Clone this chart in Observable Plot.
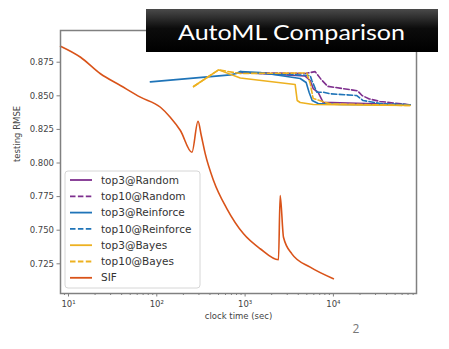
<!DOCTYPE html>
<html><head><meta charset="utf-8">
<script src="https://cdn.jsdelivr.net/npm/d3@7"></script>
<script src="https://cdn.jsdelivr.net/npm/@observablehq/plot@0.6"></script>
<style>
html,body{margin:0;padding:0;background:#fff;}
#wrap{position:relative;width:449px;height:349px;overflow:hidden;}
</style></head><body><div id="wrap"></div>
<script>
// ---- data ----
const seriesNames = ["top3@Random","top10@Random","top3@Reinforce","top10@Reinforce","top3@Bayes","top10@Bayes","SIF"];
const seriesColors = ["#7e2f8e","#7e2f8e","#1f74b8","#1f74b8","#edb120","#edb120","#d95319"];
const seriesDashed = [false,true,false,true,false,true,false];

const randTop3T  = [882, 4786, 5458, 5900, 6720, 7650, 18400, 73600];
const randTop3V  = [0.8673, 0.8647, 0.8614, 0.8554, 0.8525, 0.8452, 0.8445, 0.8433];
const randTop10T = [882, 4786, 6210, 7300, 8600, 18800, 21100, 25500, 33700, 73600];
const randTop10V = [0.8673, 0.8666, 0.8680, 0.8620, 0.8571, 0.8537, 0.8502, 0.8477, 0.8458, 0.8433];
const reinTop3T  = [84.6, 679, 794, 882, 1483, 4205, 4914, 5315, 5748, 6720, 11900, 73600];
const reinTop3V  = [0.8604, 0.8656, 0.8666, 0.8681, 0.8673, 0.8629, 0.8599, 0.8525, 0.8465, 0.8443, 0.8435, 0.8432];
const reinTop10T = [882, 1143, 5458, 5703, 6490, 7650, 9180, 18400, 21700, 33700, 73600];
const reinTop10V = [0.8681, 0.8670, 0.8651, 0.8614, 0.8527, 0.8527, 0.8515, 0.8502, 0.8465, 0.8443, 0.8433];
const bayesTop3T  = [261, 501, 882, 3690, 3890, 4205, 5900, 73600];
const bayesTop3V  = [0.8569, 0.8693, 0.8632, 0.8584, 0.8465, 0.8450, 0.8435, 0.8428];
const bayesTop10T = [261, 501, 882, 5000, 5458, 5900, 9180, 73600];
const bayesTop10V = [0.8569, 0.8693, 0.8666, 0.8670, 0.8592, 0.8480, 0.8440, 0.8428];
const sifT = [8.12, 13.7, 23.0, 38.7, 65.2, 110, 142, 185, 250, 293, 319, 354, 439, 623, 960, 1482, 2388, 2495, 2721, 3386, 5458, 10000];
const sifV = [0.8869, 0.8787, 0.8664, 0.8577, 0.8490, 0.8415, 0.8341, 0.8242, 0.8080, 0.8311, 0.8205, 0.8068, 0.7870, 0.7659, 0.7473, 0.7362, 0.7280, 0.7758, 0.7448, 0.7324, 0.7225, 0.7139];

const yTicks = [0.725, 0.750, 0.775, 0.800, 0.825, 0.850, 0.875];
const xMajor = [10, 100, 1000, 10000];
const xMinor = [9, 20,30,40,50,60,70,80,90, 200,300,400,500,600,700,800,900, 2000,3000,4000,5000,6000,7000,8000,9000, 20000,30000,40000,50000,60000,70000,80000];
const superscripts = {1:"\u00b9",2:"\u00b2",3:"\u00b3",4:"\u2074"};

const titleText = "AutoML Comparison";
const xLabel = "clock time (sec)";
const yLabel = "testing RMSE";
const pageNumber = "2";

// ---- build table ----
const seriesT = [randTop3T, randTop10T, reinTop3T, reinTop10T, bayesTop3T, bayesTop10T, sifT];
const seriesV = [randTop3V, randTop10V, reinTop3V, reinTop10V, bayesTop3V, bayesTop10V, sifV];
const rows = seriesNames.map((name, i) => seriesT[i].map((t, j) => ({name, t, v: seriesV[i][j]})));

const lineMarks = rows.map((data, i) => Plot.line(data, {
  x: "t", y: "v", stroke: seriesColors[i], strokeWidth: 1.6,
  strokeDasharray: seriesDashed[i] ? "5.5,2.4" : null, strokeLinejoin: "round",
  curve: seriesNames[i] === "SIF" ? "monotone-x" : "linear"
}));

const axisColor = "#808080";
const plot = Plot.plot({
  width: 449, height: 349,
  marginLeft: 60, marginRight: 33, marginTop: 30, marginBottom: 56,
  x: {type: "log", domain: [8.12, 87300]},
  y: {domain: [0.7029, 0.8986]},
  style: {fontFamily: "DejaVu Sans", fontSize: "8.5px", color: "#444", background: "white", overflow: "visible"},
  marks: [
    Plot.axisY(yTicks, {tickSize: 3.5, tickPadding: 3, stroke: axisColor, tickFormat: d3.format(".3f"), label: null, fill: "#444"}),
    Plot.axisX(xMajor, {tickSize: 3.5, tickPadding: 4, stroke: axisColor, tickFormat: d => "10" + superscripts[Math.round(Math.log10(d))], label: null, fill: "#444"}),
    Plot.axisX(xMinor, {tickSize: 2, stroke: axisColor, tickFormat: () => "", label: null}),
    ...lineMarks,
    Plot.frame({stroke: axisColor, strokeWidth: 1.5}),
    Plot.text([xLabel], {text: d => d, frameAnchor: "bottom", dy: 25, fill: "#444", fontSize: 8.5}),
    Plot.text([yLabel], {text: d => d, frameAnchor: "left", rotate: -90, dx: -43, fill: "#444", fontSize: 8.5})
  ]
});
document.getElementById("wrap").appendChild(plot);

// ---- overlays: legend, title box, page number ----
const svg = d3.select(plot);
const lg = svg.append("g").attr("text-anchor", "start");
lg.append("rect").attr("x", 65).attr("y", 171).attr("width", 135).attr("height", 117)
  .attr("rx", 3).attr("fill", "white").attr("fill-opacity", 0.85).attr("stroke", "#d6d6d6");
seriesNames.forEach((name, i) => {
  const y = 180 + i * 16.3;
  lg.append("line").attr("x1", 70).attr("x2", 92).attr("y1", y).attr("y2", y)
    .attr("stroke", seriesColors[i]).attr("stroke-width", 1.8)
    .attr("stroke-dasharray", seriesDashed[i] ? "5.5,2.4" : null);
  lg.append("text").attr("x", 101).attr("y", y).attr("dy", "0.35em").attr("text-anchor", "start")
    .attr("font-family", "DejaVu Sans").attr("font-size", 10.5).attr("fill", "#333").text(name);
});

const defs = svg.append("defs");
const grad = defs.append("linearGradient").attr("id", "tg").attr("x1", 0).attr("x2", 0).attr("y1", 0).attr("y2", 1);
grad.append("stop").attr("offset", "0").attr("stop-color", "#4a4a4a");
grad.append("stop").attr("offset", "0.45").attr("stop-color", "#0c0c0c");
grad.append("stop").attr("offset", "1").attr("stop-color", "#000");
svg.append("rect").attr("x", 146).attr("y", 9).attr("width", 292).attr("height", 43).attr("fill", "url(#tg)");
svg.append("text").attr("x", 178).attr("y", 39.5).attr("text-anchor", "start").attr("font-family", "Lato").attr("font-size", 21)
  .attr("fill", "white").attr("textLength", 227).attr("lengthAdjust", "spacingAndGlyphs").text(titleText);

svg.append("text").attr("x", 356).attr("y", 333).attr("text-anchor", "middle")
  .attr("font-family", "Open Sans").attr("font-size", 12).attr("fill", "#777").text(pageNumber);
</script></body></html>
